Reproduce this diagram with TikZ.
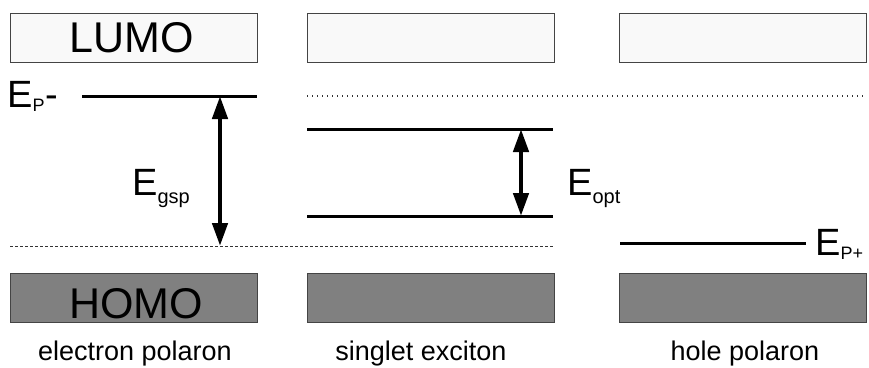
\documentclass[tikz,border=0pt]{standalone}
\usepackage{fontspec}
\setmainfont{Liberation Sans}
\usetikzlibrary{arrows.meta}
\definecolor{boxborder}{HTML}{444444}
\definecolor{lumofill}{HTML}{F9F9F9}
\definecolor{homofill}{HTML}{808080}
\definecolor{guide}{HTML}{333333}
\newcommand\mysub[3]{\raisebox{-#3pt}{\fontsize{#1pt}{#1pt}\selectfont #2}}
\begin{document}
\begin{tikzpicture}[x=1pt,y=-1pt,
  lumobox/.style={draw=boxborder, fill=lumofill, line width=1pt, minimum width=247pt, minimum height=49pt, inner sep=0pt},
  homobox/.style={lumobox, fill=homofill},
  level/.style={line width=3pt},
  bigarrow/.style={line width=4.5pt, {Triangle[length=23pt,width=15pt]}-{Triangle[length=23pt,width=15pt]}},
  dotline/.style={draw=guide, line width=1.1pt, dash pattern=on 1.2pt off 3.8pt},
  dashline/.style={draw=guide, line width=0.8pt, dash pattern=on 3pt off 2pt},
  boxtxt/.style={font=\fontsize{43pt}{43pt}\selectfont, inner sep=0pt, anchor=base},
  etxt/.style={font=\fontsize{38pt}{38pt}\selectfont, inner sep=0pt, anchor=base west},
  captxt/.style={font=\fontsize{27pt}{27pt}\selectfont, inner sep=0pt, anchor=base}
]
\useasboundingbox (0,0) rectangle (869,367);
% LUMO boxes
\node[lumobox] (lumoA) at (133.5,37.5) {};
\node[lumobox] (lumoB) at (431,37.5) {};
\node[lumobox] (lumoC) at (743,37.5) {};
\node[boxtxt] (lumotxt) at (132,52) {LUMO};
% HOMO boxes
\node[homobox] (homoA) at (133.5,298) {};
\node[homobox] (homoB) at (431,298) {};
\node[homobox] (homoC) at (743,298) {};
\node[boxtxt] (homotxt) at (136,318) {HOMO};
% levels
\coordinate (epmL) at (82,96);
\coordinate (epmR) at (257,96);
\draw[level] (epmL) -- (epmR);
\coordinate (dotL) at (307,96);
\coordinate (dotR) at (866,96);
\draw[dotline] (dotL) -- (dotR);
\coordinate (exTL) at (307,129);
\coordinate (exTR) at (553,129);
\draw[level] (exTL) -- (exTR);
\coordinate (exBL) at (307,216);
\coordinate (exBR) at (553,216);
\draw[level] (exBL) -- (exBR);
\coordinate (dashL) at (10,246);
\coordinate (dashR) at (553,246);
\draw[dashline] (dashL) -- (dashR);
\coordinate (eppL) at (620,243);
\coordinate (eppR) at (806,243);
\draw[level] (eppL) -- (eppR);
% arrows
\coordinate (gspT) at (220,96);
\coordinate (gspB) at (220,246);
\draw[bigarrow] (gspT) -- (gspB);
\coordinate (optT) at (521,129);
\coordinate (optB) at (521,216);
\draw[bigarrow] (optT) -- (optB);
% energy labels
\node[etxt] (lblEpm) at (7,107) {E\mysub{18}{P}{4}\hspace{1pt}-};
\node[etxt] (lblEgsp) at (132,195) {E\mysub{20}{gsp}{8}};
\node[etxt] (lblEopt) at (567,195) {E\mysub{20}{opt}{8}};
\node[etxt] (lblEpp) at (815,255) {E\mysub{18}{P+}{4}};
% captions
\node[captxt] (capA) at (135,360) {electron polaron};
\node[captxt] (capB) at (421,360) {singlet exciton};
\node[captxt] (capC) at (745,360) {hole polaron};
\end{tikzpicture}
\end{document}
